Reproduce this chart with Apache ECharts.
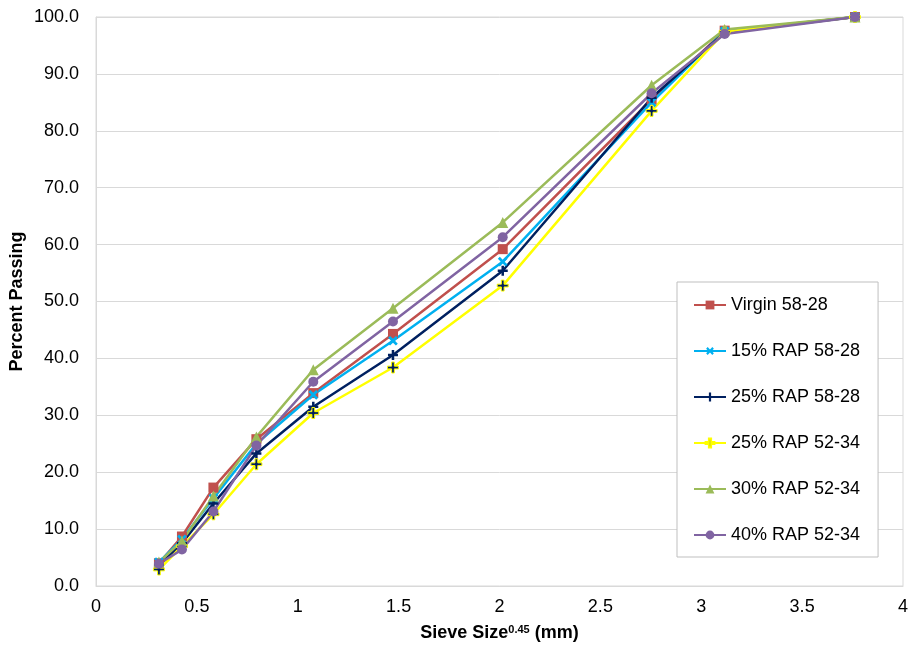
<!DOCTYPE html>
<html>
<head>
<meta charset="utf-8">
<script src="https://cdn.jsdelivr.net/npm/echarts@6/dist/echarts.min.js"></script>
<style>
html,body{margin:0;padding:0;background:#fff;}
#chart{width:910px;height:649px;}
</style>
</head>
<body>
<div id="chart"></div>
<script>
// Sieve size^0.45 (mm) for 0.075, 0.15, 0.3, 0.6, 1.18, 2.36, 4.75, 9.5, 12.5, 19 mm
var sieveX = [0.312, 0.426, 0.582, 0.795, 1.077, 1.472, 2.016, 2.754, 3.116, 3.762];

var seriesNames = ['Virgin 58-28', '15% RAP 58-28', '25% RAP 58-28', '25% RAP 52-34', '30% RAP 52-34', '40% RAP 52-34'];

var virgin5828 = [4.0, 8.7, 17.3, 25.8, 33.9, 44.3, 59.2, 85.5, 97.6, 100.0];
var rap15_5828 = [4.2, 8.2, 15.4, 25.0, 33.6, 43.1, 57.0, 85.0, 97.5, 100.0];
var rap25_5828 = [3.6, 7.5, 14.5, 23.3, 31.5, 40.6, 55.4, 85.8, 97.3, 100.0];
var rap25_5234 = [2.9, 7.0, 12.6, 21.4, 30.4, 38.4, 52.8, 83.5, 97.4, 100.0];
var rap30_5234 = [4.2, 7.9, 15.8, 26.2, 38.0, 48.8, 63.9, 88.0, 97.8, 100.0];
var rap40_5234 = [3.9, 6.4, 13.1, 24.7, 35.9, 46.5, 61.3, 86.6, 97.0, 100.0];

var yTicks = [0, 10, 20, 30, 40, 50, 60, 70, 80, 90, 100];

function pairs(xs, ys) {
  return xs.map(function (x, i) { return [x, ys[i]]; });
}

var plusPath = 'path://M3,0H5V3H8V5H5V8H3V5H0V3H3Z';

var chart = echarts.init(document.getElementById('chart'), null, {renderer: 'canvas'});

function mk(name, ys, color, symbol, size, itemStyle, rotate) {
  return {
    name: name,
    type: 'line',
    data: pairs(sieveX, ys),
    symbol: symbol,
    symbolSize: size,
    symbolRotate: rotate || 0,
    lineStyle: {color: color, width: 2.5},
    itemStyle: itemStyle || {color: color},
    emphasis: {disabled: true},
    animation: false
  };
}

var option = {
  backgroundColor: '#ffffff',
  animation: false,
  textStyle: {fontFamily: '"Liberation Sans", Arial, sans-serif'},
  grid: {left: 96, right: 7, top: 17, bottom: 63, containLabel: false, outerBoundsMode: 'none', show: true, borderColor: '#d9d9d9', borderWidth: 1, backgroundColor: 'transparent'},
  legend: {
    orient: 'vertical',
    left: 677,
    top: 282,
    padding: [14, 18, 13, 16],
    itemGap: 28,
    itemWidth: 32,
    itemHeight: 11,
    borderColor: '#bfbfbf',
    borderWidth: 1,
    backgroundColor: '#ffffff',
    textStyle: {fontSize: 18, color: '#000', fontFamily: '"Liberation Sans", Arial, sans-serif'},
    data: seriesNames
  },
  xAxis: {
    type: 'value',
    min: 0,
    max: 4,
    interval: 0.5,
    name: 'Sieve Size{sup|0.45} (mm)',
    nameLocation: 'middle',
    nameGap: 38,
    nameMoveOverlap: false,
    nameTextStyle: {
      fontSize: 18, fontWeight: 'bold', color: '#000',
      rich: {sup: {fontSize: 11, fontWeight: 'bold', color: '#000', verticalAlign: 'top'}}
    },
    axisLine: {show: true, lineStyle: {color: '#d9d9d9', width: 1}},
    axisTick: {show: false},
    splitLine: {show: false},
    axisLabel: {fontSize: 18, color: '#000', margin: 12}
  },
  yAxis: {
    type: 'value',
    min: 0,
    max: 100,
    interval: 10,
    name: 'Percent Passing',
    nameLocation: 'middle',
    nameGap: 70,
    nameMoveOverlap: false,
    nameTextStyle: {fontSize: 18, fontWeight: 'bold', color: '#000'},
    axisLine: {show: true, lineStyle: {color: '#d9d9d9', width: 1}},
    axisTick: {show: false},
    splitLine: {show: true, lineStyle: {color: '#d9d9d9', width: 1}},
    axisLabel: {
      fontSize: 18, color: '#000', margin: 17,
      formatter: function (v) { return yTicks.indexOf(v) >= 0 ? v.toFixed(1) : ''; }
    }
  },
  series: [
    mk(seriesNames[0], virgin5828, '#C0504D', 'rect', 10),
    mk(seriesNames[1], rap15_5828, '#00B0F0', plusPath, 11, {color: '#00B0F0'}, 45),
    mk(seriesNames[2], rap25_5828, '#002060', plusPath, 10, {color: '#002060'}),
    mk(seriesNames[3], rap25_5234, '#FFFF00', plusPath, 11, {color: '#002060', borderColor: '#FFFF00', borderWidth: 1}),
    mk(seriesNames[4], rap30_5234, '#9BBB59', 'triangle', 11),
    mk(seriesNames[5], rap40_5234, '#8064A2', 'circle', 10)
  ]
};

chart.setOption(option);
</script>
</body>
</html>
